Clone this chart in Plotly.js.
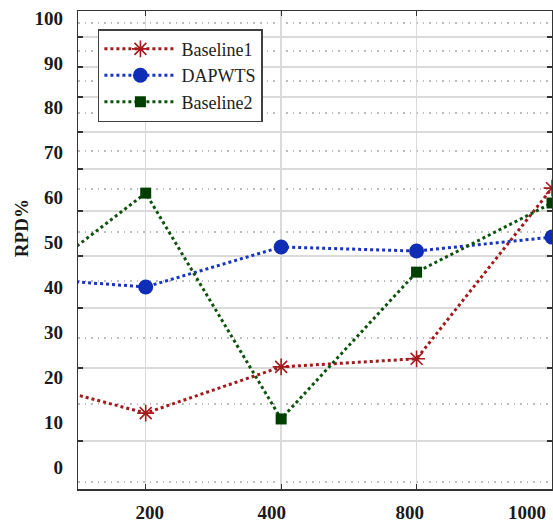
<!DOCTYPE html>
<html><head><meta charset="utf-8">
<script src="https://cdn.plot.ly/plotly-3.0.1.min.js"></script>
<style>html,body{margin:0;padding:0;background:#fff}</style>
</head><body><div id="chart" style="width:553px;height:524px"></div>
<script>
// ---- data ----
const categories = ['100', '200', '400', '800', '1000']; // first one lies left of the visible range
const baseline1 = [20.0, 12.0, 22.3, 24.1, 62.1];
const dapwts    = [42.3, 40.1, 49.0, 48.1, 51.2];
const baseline2 = [37.8, 61.0, 10.7, 43.4, 58.8];
const seriesNames = ['Baseline1', 'DAPWTS', 'Baseline2'];
const xTickLabels = ['200', '400', '800', '1000'];
const yTickLabels = ['0', '10', '20', '30', '40', '50', '60', '70', '80', '90', '100'];

// ---- styling / layout constants ----
const yRange = [-4.90, 101.56];
const gridMajor = [95.77, 89.09, 82.41, 74.61, 66.37, 57.02, 46.99, 35.41, 22.05, 5.79];
const gridMinor = [98.89, 92.65, 85.97, 78.84, 70.38, 61.92, 52.34, 41.43, 28.73, 14.03, -3.34];
const xLabelPos = [1.029, 1.930, 2.949, 3.816];
const serif = 'Liberation Serif, Times New Roman, serif';
const tickFont = {family: serif, size: 19, color: '#1a1a1a', weight: 'bold'};

const traces = [
  {x: categories, y: baseline1, name: seriesNames[0], type: 'scatter', mode: 'lines+markers',
   line: {color: '#A3191C', width: 3, dash: 'dot'},
   marker: {symbol: 'asterisk-open', size: 14, color: '#A3191C', line: {color: '#A3191C', width: 1.6}}},
  {x: categories, y: dapwts, name: seriesNames[1], type: 'scatter', mode: 'lines+markers',
   line: {color: '#1636C0', width: 3, dash: 'dot'},
   marker: {symbol: 'circle', size: 15, color: '#0F2DB5'}},
  {x: categories, y: baseline2, name: seriesNames[2], type: 'scatter', mode: 'lines+markers',
   line: {color: '#0E520E', width: 3, dash: 'dot'},
   marker: {symbol: 'square', size: 11, color: '#003F00'}},
  {x: [], y: [], xaxis: 'x2', yaxis: 'y2', showlegend: false, hoverinfo: 'skip', type: 'scatter'}
];

const layout = {
  width: 553, height: 524,
  margin: {l: 78, r: 1, t: 11, b: 35},
  paper_bgcolor: '#ffffff', plot_bgcolor: '#ffffff',
  font: {family: serif, size: 18, color: '#222222'},
  showlegend: true,
  xaxis: {
    type: 'category', categoryorder: 'array', categoryarray: categories,
    range: [0.5, 4], showgrid: true, gridcolor: '#dadada', gridwidth: 1.5,
    showline: true, linecolor: '#333333', linewidth: 1.5, mirror: 'ticks',
    ticks: 'inside', ticklen: 5, tickwidth: 1.2, tickcolor: '#333333',
    showticklabels: false, zeroline: false, fixedrange: true
  },
  yaxis: {
    range: yRange, tickmode: 'array', tickvals: gridMajor,
    showgrid: true, gridcolor: '#dadada', gridwidth: 1.5,
    minor: {tickmode: 'array', tickvals: gridMinor, showgrid: true, gridcolor: '#bcbcbc',
            griddash: '1.5px,5px', gridwidth: 1.5, ticks: ''},
    showline: true, linecolor: '#333333', linewidth: 1.5, mirror: 'ticks',
    ticks: 'inside', ticklen: 5, tickwidth: 1.2, tickcolor: '#333333',
    showticklabels: false, zeroline: false, fixedrange: true
  },
  xaxis2: {
    overlaying: 'x', anchor: 'y2', side: 'bottom', type: 'linear', range: [0.5, 4],
    tickmode: 'array', tickvals: xLabelPos, ticktext: xTickLabels,
    showgrid: false, showline: false, zeroline: false, ticks: '',
    tickfont: tickFont, ticklabelstandoff: 10, fixedrange: true
  },
  yaxis2: {
    overlaying: 'y', anchor: 'x2', side: 'left', range: yRange,
    tickmode: 'array', tickvals: yTickLabels.map(Number), ticktext: yTickLabels,
    showgrid: false, showline: false, zeroline: false, ticks: '',
    tickfont: tickFont, ticklabelstandoff: 14, fixedrange: true
  },
  legend: {
    x: 0.042, y: 0.962, xanchor: 'left', yanchor: 'top',
    bgcolor: '#ffffff', bordercolor: '#404040', borderwidth: 1.5,
    font: {family: serif, size: 18, color: '#222222'},
    itemwidth: 72, tracegroupgap: 0
  },
  annotations: [{
    text: '<b>RPD%</b>', xref: 'paper', yref: 'paper', x: -0.120, y: 0.546,
    textangle: -90, showarrow: false, xanchor: 'center', yanchor: 'middle',
    font: {family: serif, size: 19, color: '#1a1a1a'}
  }]
};

Plotly.newPlot('chart', traces, layout, {displayModeBar: false, staticPlot: true});
</script>
</body></html>
